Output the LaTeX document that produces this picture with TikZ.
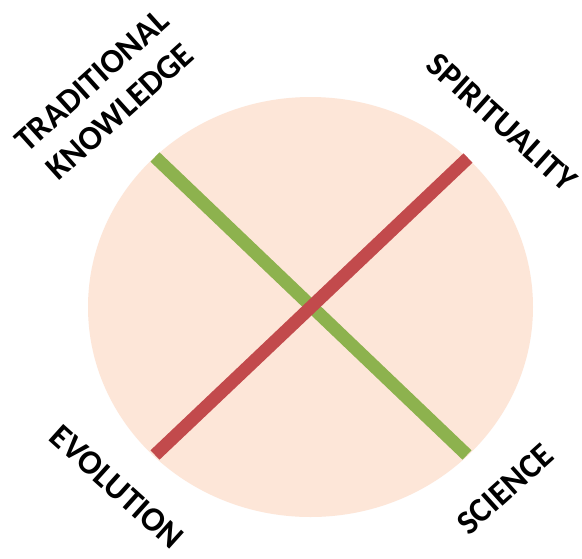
\documentclass[tikz,border=0pt]{standalone}
\usepackage{fontspec}
\usetikzlibrary{shapes.geometric}
\setmainfont{Carlito}
\definecolor{circfill}{HTML}{FDE6D8}
\definecolor{lgreen}{HTML}{8DB24E}
\definecolor{lred}{HTML}{C24A4C}
\tikzset{
  bar/.style={line width=13pt, line cap=butt},
  lab/.style={font=\bfseries\fontsize{34}{42}\selectfont, inner sep=0pt, align=center, text=black}
}
\begin{document}
\begin{tikzpicture}[x=1pt, y=-1pt]
\useasboundingbox (0,0) rectangle (582,558);
\fill[white] (0,0) rectangle (582,558);
\node[ellipse, minimum width=445pt, minimum height=420pt, fill=circfill, inner sep=0pt] (disc) at (310.5,307) {};
\coordinate (tk) at (155,157);
\coordinate (sc) at (467,455);
\coordinate (sp) at (468,158);
\coordinate (ev) at (155,455);
\draw[bar, lgreen] (tk) -- (sc);
\draw[bar, lred] (sp) -- (ev);
\node[lab, rotate=42] (trad) at (106,96) {TRADITIONAL\\KNOWLEDGE};
\node[lab, rotate=-42] (spir) at (502,122) {SPIRITUALITY};
\node[lab, rotate=-42] (evol) at (117,487) {EVOLUTION};
\node[lab, rotate=42] (scie) at (505,489) {SCIENCE};
\end{tikzpicture}
\end{document}
